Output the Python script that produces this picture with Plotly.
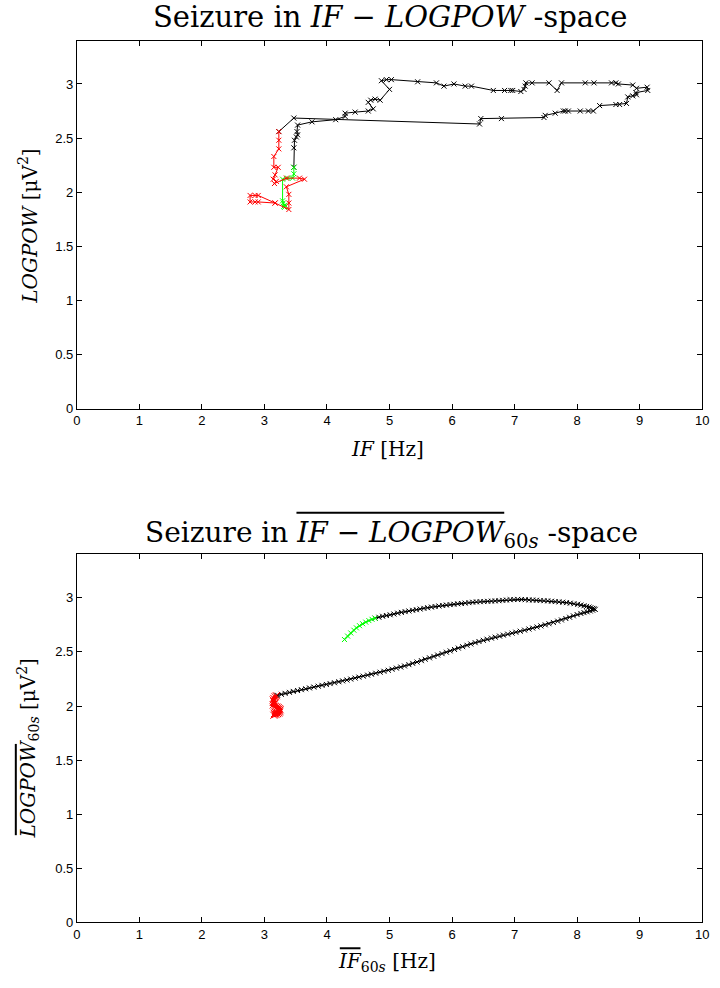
import plotly.graph_objects as go

# ---------------- data: raw IF-LOGPOW trajectory (top) ----------------
green_x = [3.31, 3.33, 3.30, 3.32, 3.29, 3.29, 3.37, 3.45, 3.47, 3.47]
green_y = [1.87, 1.88, 1.90, 1.86, 1.92, 2.12, 2.13, 2.13, 2.17, 2.23]

black_x = [3.47, 3.47, 3.48, 3.51, 3.53, 3.52, 3.53, 3.76, 4.14, 4.29, 4.29, 4.45,
           4.66, 4.74, 4.66, 4.70, 4.77, 4.85, 5.00, 4.87, 4.95, 5.03, 5.45, 5.75,
           5.87, 6.03, 6.21, 6.31, 6.66, 6.84, 6.94, 6.97, 7.10, 7.15, 7.17, 7.18,
           7.28, 7.55, 7.68, 7.75, 8.13, 8.27, 8.55, 8.62, 8.66, 8.89, 8.95, 9.12,
           9.13, 8.94, 8.95, 8.89, 8.81, 8.79, 8.68, 8.62, 8.36, 8.26, 8.18, 8.05,
           7.86, 7.81, 7.78, 7.65, 7.49, 7.47, 6.79, 6.46, 6.44, 3.47, 3.23]
black_y = [2.23, 2.41, 2.48, 2.51, 2.53, 2.56, 2.62, 2.65, 2.67, 2.70, 2.73, 2.74,
           2.75, 2.77, 2.83, 2.85, 2.86, 2.85, 2.95, 3.03, 3.04, 3.04, 3.02, 3.01,
           2.98, 3.00, 2.98, 2.98, 2.94, 2.94, 2.94, 2.94, 2.93, 2.95, 2.98, 3.01,
           3.01, 3.01, 2.94, 3.01, 3.01, 3.01, 3.01, 3.01, 3.00, 2.99, 2.96, 2.97,
           2.94, 2.92, 2.90, 2.89, 2.88, 2.82, 2.81, 2.81, 2.80, 2.75, 2.75, 2.75,
           2.75, 2.75, 2.75, 2.73, 2.71, 2.69, 2.68, 2.68, 2.63, 2.685, 2.56]

red_x = [3.23, 3.23, 3.23, 3.15, 3.15, 3.22, 3.17, 3.14, 3.19, 3.16, 3.35, 3.56,
         3.64, 3.35, 3.39, 3.39, 3.39, 3.17, 2.90, 2.85, 2.77, 2.77, 2.85, 2.90, 3.17]
red_y = [2.56, 2.48, 2.40, 2.33, 2.23, 2.23, 2.16, 2.12, 2.10, 2.08, 2.13, 2.13,
         2.12, 2.05, 1.98, 1.90, 1.84, 1.90, 1.97, 1.97, 1.97, 1.91, 1.91, 1.91, 1.90]

# ---------------- data: 60 s averaged trajectory (bottom) ----------------
sm_green_x = [4.28, 4.33, 4.38, 4.43, 4.47, 4.52, 4.57, 4.62, 4.67, 4.72, 4.77]
sm_green_y = [2.614, 2.646, 2.675, 2.700, 2.722, 2.742, 2.760, 2.775, 2.789, 2.801, 2.811]

sm_black_x = [4.77, 4.83, 4.89, 4.95, 5.01, 5.07, 5.13, 5.19, 5.25, 5.31, 5.37, 5.43,
              5.49, 5.55, 5.61, 5.67, 5.73, 5.79, 5.85, 5.91, 5.97, 6.03, 6.09, 6.15,
              6.21, 6.27, 6.33, 6.39, 6.45, 6.51, 6.57, 6.63, 6.69, 6.75, 6.81, 6.87,
              6.93, 6.99, 7.05, 7.11, 7.17, 7.23, 7.29, 7.35, 7.41, 7.47, 7.53, 7.59,
              7.65, 7.71, 7.77, 7.83, 7.89, 7.95, 8.01, 8.06, 8.11, 8.15, 8.19, 8.22,
              8.25, 8.27, 8.29,
              8.25, 8.21, 8.16, 8.11, 8.06, 8.00, 7.94, 7.88, 7.82, 7.75, 7.69, 7.62,
              7.55, 7.49, 7.42, 7.36, 7.29, 7.23, 7.16, 7.09, 7.02, 6.96, 6.89, 6.82,
              6.76, 6.69, 6.63, 6.56, 6.50, 6.43, 6.37, 6.30, 6.24, 6.17, 6.10, 6.04,
              5.97, 5.91, 5.84, 5.77, 5.71, 5.64, 5.57, 5.51, 5.44, 5.37, 5.31, 5.24,
              5.18, 5.11, 5.04, 4.98, 4.91, 4.85, 4.78, 4.71, 4.65, 4.58, 4.51, 4.45,
              4.38, 4.32, 4.25, 4.19, 4.12, 4.05, 3.99, 3.92, 3.86, 3.79, 3.72, 3.66,
              3.59, 3.53, 3.46, 3.40, 3.33, 3.27, 3.21, 3.19]
sm_black_y = [2.811, 2.820, 2.829, 2.836, 2.843, 2.850, 2.858, 2.865, 2.872, 2.878, 2.884, 2.890,
              2.896, 2.902, 2.908, 2.914, 2.919, 2.924, 2.929, 2.933, 2.937, 2.940, 2.944, 2.947,
              2.951, 2.955, 2.959, 2.962, 2.964, 2.965, 2.967, 2.969, 2.971, 2.973, 2.976, 2.979,
              2.982, 2.984, 2.985, 2.984, 2.982, 2.980, 2.979, 2.977, 2.975, 2.973, 2.971, 2.968,
              2.965, 2.962, 2.959, 2.955, 2.950, 2.945, 2.940, 2.933, 2.926, 2.920, 2.914, 2.908,
              2.902, 2.898, 2.893,
              2.885, 2.878, 2.870, 2.863, 2.855, 2.845, 2.833, 2.820, 2.808, 2.795, 2.784, 2.772,
              2.760, 2.750, 2.740, 2.730, 2.720, 2.711, 2.701, 2.691, 2.682, 2.673, 2.664, 2.655,
              2.646, 2.636, 2.627, 2.617, 2.607, 2.596, 2.585, 2.573, 2.561, 2.548, 2.535, 2.522,
              2.509, 2.497, 2.484, 2.471, 2.458, 2.445, 2.432, 2.419, 2.406, 2.394, 2.382, 2.370,
              2.360, 2.350, 2.340, 2.330, 2.321, 2.312, 2.303, 2.294, 2.285, 2.276, 2.267, 2.258,
              2.249, 2.240, 2.232, 2.224, 2.215, 2.207, 2.199, 2.191, 2.183, 2.175, 2.167, 2.159,
              2.151, 2.143, 2.135, 2.126, 2.117, 2.108, 2.099, 2.095]

sm_red_x = [3.19, 3.17, 3.15, 3.14, 3.15, 3.17, 3.16, 3.14, 3.16, 3.18, 3.20, 3.22, 3.24,
            3.25, 3.24, 3.22, 3.24, 3.23, 3.21, 3.19, 3.17, 3.15, 3.16, 3.18]
sm_red_y = [2.095, 2.085, 2.07, 2.055, 2.04, 2.03, 2.02, 2.01, 2.00, 1.995, 1.99, 1.985, 1.975,
            1.965, 1.955, 1.97, 1.945, 1.935, 1.93, 1.925, 1.92, 1.915, 1.93, 1.94]

x_ticks = [0, 1, 2, 3, 4, 5, 6, 7, 8, 9, 10]
y_ticks = [0, 0.5, 1, 1.5, 2, 2.5, 3]
y_tick_text = ["0", "0.5", "1", "1.5", "2", "2.5", "3"]

W, H = 720, 988
def px(x):
    return x / W
def py(y):
    return 1 - y / H

fig = go.Figure()

def add_series(xs, ys, color, xa, ya, msize=5, lw=1):
    fig.add_trace(go.Scatter(
        x=xs, y=ys, mode="lines+markers", xaxis=xa, yaxis=ya,
        line=dict(color=color, width=lw),
        marker=dict(symbol="x-thin", size=msize, line=dict(color=color, width=1), color=color),
        showlegend=False, hoverinfo="skip"))

add_series(black_x, black_y, "black", "x", "y")
add_series(green_x, green_y, "#00ff00", "x", "y")
add_series(red_x, red_y, "red", "x", "y")

add_series(sm_black_x, sm_black_y, "black", "x2", "y2", 5, 1.3)
add_series(sm_green_x, sm_green_y, "#00ff00", "x2", "y2", 5, 1.3)
add_series(sm_red_x, sm_red_y, "red", "x2", "y2", 7, 4.5)

tickfont = dict(family="Liberation Sans, Arial, sans-serif", size=13, color="black")
xdom = [px(74), px(709)]
axis_common = dict(showline=True, linecolor="black", linewidth=1, mirror="ticks",
                   ticks="inside", ticklen=5, tickcolor="black", showgrid=False,
                   zeroline=False, tickfont=tickfont, fixedrange=True)

fig.update_layout(
    width=W, height=H, margin=dict(l=0, r=0, t=0, b=0),
    paper_bgcolor="white", plot_bgcolor="white", showlegend=False,
    xaxis=dict(domain=xdom, range=[0, 10], tickvals=x_ticks, anchor="y", **axis_common),
    yaxis=dict(domain=[py(412), py(41)], range=[0, 3.4], tickvals=y_ticks,
               ticktext=y_tick_text, anchor="x", **axis_common),
    xaxis2=dict(domain=xdom, range=[0, 10], tickvals=x_ticks, anchor="y2", **axis_common),
    yaxis2=dict(domain=[py(930), py(559)], range=[0, 3.4], tickvals=y_ticks,
                ticktext=y_tick_text, anchor="x2", **axis_common),
)

serif = "DejaVu Serif, serif"
def ann(text, x, y, size, angle=0):
    fig.add_annotation(text=text, x=px(x), y=py(y), xref="paper", yref="paper",
                       xanchor="center", yanchor="middle", showarrow=False,
                       textangle=angle, font=dict(family=serif, size=size, color="black"))

ann("Seizure in <i>IF</i> − <i>LOGPOW</i> -space", 392, 17, 29)
ann("<i>IF</i> [Hz]", 389, 453, 20)
ann("<i>LOGPOW</i> [μV<sup>2</sup>]", 25, 228, 20, -90)

ann("Seizure in <i>IF</i> − <i>LOGPOW</i><sub>60<i>s</i></sub> -space", 394, 539, 28)
ann("<i>IF</i><sub>60<i>s</i></sub> [Hz]", 389, 970, 20)
ann("<i>LOGPOW</i><sub>60<i>s</i></sub> [μV<sup>2</sup>]", 25, 755, 20, -90)

# overlines (text decoration)
def hline(x0, x1, y):
    fig.add_shape(type="line", xref="paper", yref="paper", x0=px(x0), x1=px(x1),
                  y0=py(y), y1=py(y), line=dict(color="black", width=2))
def vline(x, y0, y1):
    fig.add_shape(type="line", xref="paper", yref="paper", x0=px(x), x1=px(x),
                  y0=py(y0), y1=py(y1), line=dict(color="black", width=2))

hline(297, 508, 517)
hline(341, 362, 956)
vline(12, 750, 842)

fig.write_html("out.html")
